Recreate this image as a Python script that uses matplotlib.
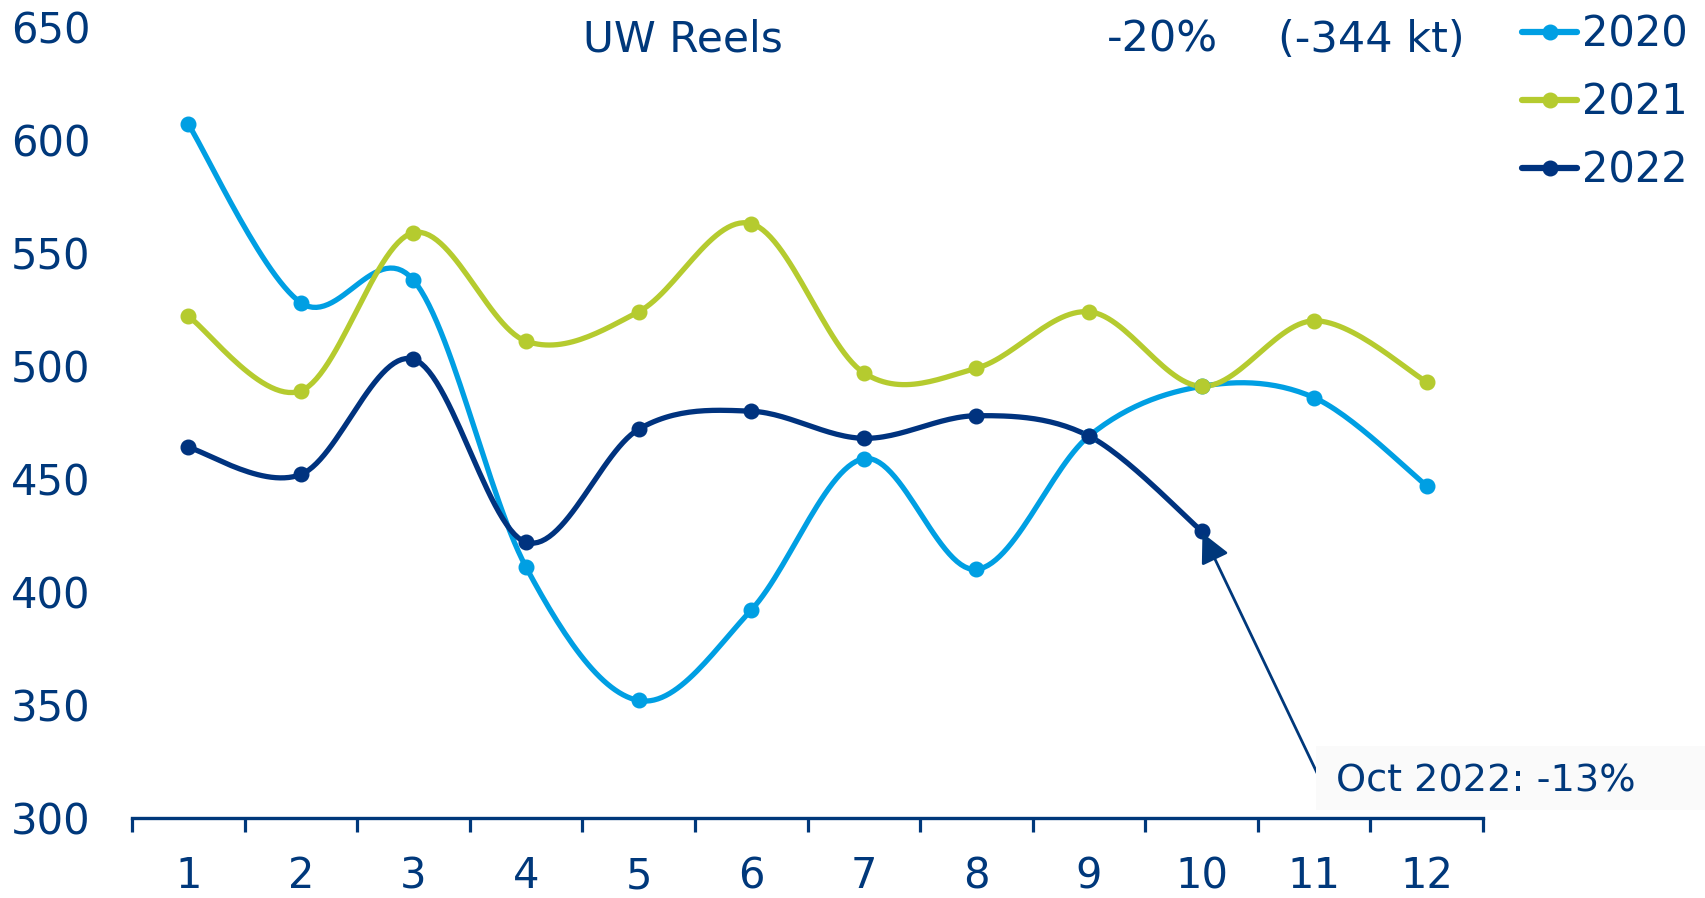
import matplotlib
matplotlib.use("Agg")
import matplotlib.pyplot as plt
import numpy as np
from matplotlib.lines import Line2D
from matplotlib.patches import Rectangle

NAVY = "#00387b"
LIGHT = "#009fe3"
LIME = "#b5cb2f"
DARK = "#00337f"

MONTHS = list(range(1, 13))
Y2020 = [607, 528, 538, 411, 352, 392, 459, 410, 469, 491, 486, 447]
Y2021 = [522, 489, 559, 511, 524, 563, 497, 499, 524, 491, 520, 493]
Y2022 = [464, 452, 503, 422, 472, 480, 468, 478, 469, 427]
SERIES = [("2020", Y2020, LIGHT), ("2021", Y2021, LIME), ("2022", Y2022, DARK)]

plt.rcParams["font.family"] = ["DejaVu Sans"]


def smooth(x, y, n=30):
    # Catmull-Rom style bezier through the points, like a spreadsheet "smoothed line"
    x = np.asarray(x, float)
    y = np.asarray(y, float)
    px = np.concatenate([[x[0]], x, [x[-1]]])
    py = np.concatenate([[y[0]], y, [y[-1]]])
    xs, ys = [], []
    t = np.linspace(0, 1, n)
    for i in range(1, len(px) - 2):
        p0 = np.array([px[i], py[i]])
        p3 = np.array([px[i + 1], py[i + 1]])
        p1 = p0 + (np.array([px[i + 1], py[i + 1]]) - np.array([px[i - 1], py[i - 1]])) / 6
        p2 = p3 - (np.array([px[i + 2], py[i + 2]]) - np.array([px[i], py[i]])) / 6
        pts = ((1 - t) ** 3)[:, None] * p0 + (3 * (1 - t) ** 2 * t)[:, None] * p1 \
            + (3 * (1 - t) * t ** 2)[:, None] * p2 + (t ** 3)[:, None] * p3
        xs.append(pts[:, 0])
        ys.append(pts[:, 1])
    return np.concatenate(xs), np.concatenate(ys)


fig = plt.figure(figsize=(17.05, 8.98), dpi=100)
ax = fig.add_axes([132 / 1705, 1 - 818 / 898, (1483 - 132) / 1705, (818 - 27) / 898])

handles = []
for label, vals, col in SERIES:
    xm = MONTHS[:len(vals)]
    sx, sy = smooth(xm, vals)
    ax.plot(sx, sy, color=col, lw=3.8, solid_capstyle="round", zorder=2)
    ax.plot(xm, vals, "o", color=col, ms=10.5, zorder=3)
    handles.append(Line2D([], [], color=col, lw=4.5, marker="o", ms=10.5,
                          solid_capstyle="round", label=label))

ax.set_xlim(0.5, 12.5)
ax.set_ylim(300, 650)
ax.set_yticks(range(300, 651, 50))
ax.tick_params(axis="y", length=0, pad=30, labelsize=30, labelcolor=NAVY)

ax.set_xticks(np.arange(0.5, 13, 1))
ax.set_xticklabels([])
ax.set_xticks(MONTHS, minor=True)
ax.set_xticklabels([str(m) for m in MONTHS], minor=True)
ax.tick_params(axis="x", which="major", direction="out", length=10, width=2.3, color=NAVY)
ax.tick_params(axis="x", which="minor", length=0, pad=27, labelsize=30, labelcolor=NAVY)

for s in ["top", "right", "left"]:
    ax.spines[s].set_visible(False)
ax.spines["bottom"].set_color(NAVY)
ax.spines["bottom"].set_linewidth(2.4)

fig.text(683 / 1705, 1 - 40 / 898, "UW Reels", ha="center", va="center",
         fontsize=30.5, color=NAVY)
fig.text(1107 / 1705, 1 - 40 / 898, "-20%", ha="left", va="center",
         fontsize=31, color=NAVY)
fig.text(1278 / 1705, 1 - 40 / 898, "(-344 kt)", ha="left", va="center",
         fontsize=31, color=NAVY)

ax.legend(handles=handles, loc="upper left", bbox_to_anchor=(1522 / 1705, 0.985),
          bbox_transform=fig.transFigure, frameon=False, fontsize=30,
          handlelength=1.33, handletextpad=0.1, labelspacing=0.62,
          borderpad=0, borderaxespad=0, labelcolor=NAVY)

# callout for the latest month
fig.patches.append(Rectangle((1316 / 1705, 1 - 810 / 898), (1705 - 1316) / 1705,
                             64 / 898, transform=fig.transFigure,
                             facecolor="#fafafa", edgecolor="none", zorder=0))
fig.text(1336 / 1705, 1 - 781 / 898, "Oct 2022: -13%", ha="left", va="center",
         fontsize=27.5, color=NAVY)
ax.annotate("", xy=(10, Y2022[9]), xytext=(1319 / 1705, 1 - 777 / 898),
            textcoords="figure fraction",
            arrowprops=dict(arrowstyle="-|>", color=NAVY, lw=2.0,
                            mutation_scale=45, shrinkA=0, shrinkB=1.5))

fig.savefig("out.png", dpi=100)
